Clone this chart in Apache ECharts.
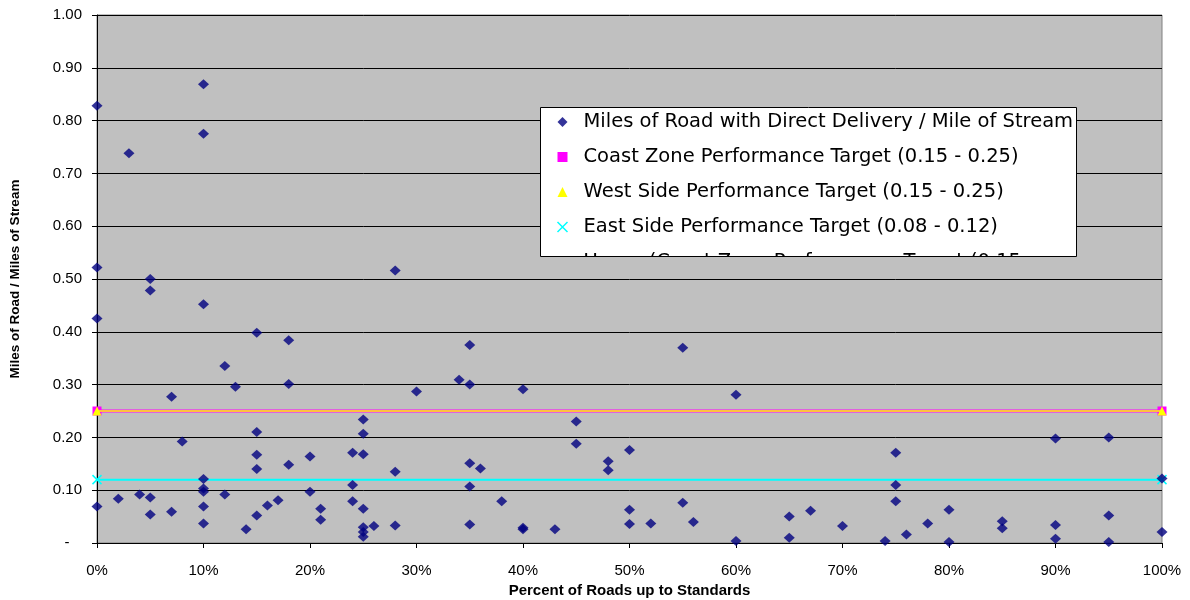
<!DOCTYPE html>
<html>
<head>
<meta charset="utf-8">
<script src="https://cdn.jsdelivr.net/npm/echarts@6/dist/echarts.min.js"></script>
<style>
html,body{margin:0;padding:0;background:#fff;}
#chart{width:1190px;height:600px;}
</style>
</head>
<body>
<div id="chart"></div>
<script>
// percent of roads up to standards
var pctRoads = [
	0,0,0,0, 2, 3, 4, 5,5,5,5, 7,7, 8,
	10,10,10,10,10,10,10,10, 12,12, 13, 14,
	15,15,15,15,15, 16, 17, 18,18,18, 20,20, 21,21,
	24,24,24, 25,25,25,25,25,25,25, 26, 28,28,28,
	30, 34, 35,35,35,35,35, 36, 38, 40,40,40, 43,
	45,45, 48,48, 50,50,50, 52, 55,55, 56, 60,60,
	65,65, 67, 70, 74, 75,75,75, 76, 78, 80,80,
	85,85, 90,90,90, 95,95,95, 100,100
];
// miles of road / miles of stream
var milesRatio = [
	0.828,0.522,0.425,0.069, 0.084, 0.738, 0.092, 0.500,0.478,0.086,0.054, 0.277,0.059, 0.192,
	0.869,0.775,0.452,0.121,0.103,0.097,0.069,0.037, 0.335,0.092, 0.296, 0.026,
	0.398,0.210,0.167,0.140,0.052, 0.071, 0.081, 0.384,0.301,0.148, 0.164,0.097, 0.065,0.044,
	0.171,0.110,0.079, 0.234,0.207,0.168,0.065,0.030,0.021,0.012, 0.032, 0.516,0.135,0.033,
	0.287, 0.309, 0.375,0.300,0.151,0.107,0.035, 0.141, 0.079, 0.291,0.029,0.026, 0.026,
	0.230,0.188, 0.155,0.138, 0.176,0.063,0.036, 0.037, 0.370,0.076, 0.040, 0.281,0.004,
	0.050,0.010, 0.061, 0.032, 0.004, 0.171,0.110,0.079, 0.016, 0.037, 0.063,0.002,
	0.041,0.028, 0.198,0.034,0.008, 0.200,0.052,0.002, 0.122,0.021
];
// performance targets (upper bounds)
var targetX = [0, 100];
var coastTarget = [0.25, 0.25];
var westTarget = [0.25, 0.25];
var eastTarget = [0.12, 0.12];

var seriesNames = [
	'Miles of Road with Direct Delivery / Mile of Stream',
	'Coast Zone Performance Target (0.15 - 0.25)',
	'West Side Performance Target (0.15 - 0.25)',
	'East Side Performance Target (0.08 - 0.12)',
	'Upper (Coast Zone Performance Target (0.15 - 0.25))'
];

var crossIcon = 'path://M0,0L10,10M10,0L0,10';

function pairs(xs, ys){
	var out = [];
	for (var i = 0; i < xs.length; i++) out.push([xs[i], ys[i]]);
	return out;
}

var myChart = echarts.init(document.getElementById('chart'));
var option = {
	animation: false,
	grid: {
		left: 97, right: 28, top: 15, bottom: 57,
		outerBoundsMode: 'none',
		containLabel: false,
		show: true,
		backgroundColor: '#C0C0C0',
		borderColor: '#808080',
		borderWidth: 1
	},
	xAxis: {
		type: 'value', min: 0, max: 100, interval: 10,
		name: 'Percent of Roads up to Standards',
		nameLocation: 'middle', nameGap: 40,
		nameTextStyle: {fontFamily: 'Liberation Sans', fontWeight: 'bold', fontSize: 15, color: '#000'},
		axisLine: {lineStyle: {color: '#000', width: 1}},
		axisTick: {show: true, length: 5, lineStyle: {color: '#000'}},
		axisLabel: {formatter: '{value}%', margin: 20, fontFamily: 'Liberation Sans', fontSize: 15, color: '#000'},
		splitLine: {show: false}
	},
	yAxis: {
		type: 'value', min: 0, max: 1, interval: 0.1,
		name: 'Miles of Road / Miles of Stream',
		nameLocation: 'middle', nameGap: 75,
		nameTextStyle: {fontFamily: 'Liberation Sans', fontWeight: 'bold', fontSize: 13.5, color: '#000'},
		axisLine: {show: true, lineStyle: {color: '#000', width: 1}},
		axisTick: {show: true, length: 5, lineStyle: {color: '#000'}},
		axisLabel: {
			margin: 15, fontFamily: 'Liberation Sans', fontSize: 15, color: '#000',
			formatter: function(v){ return v === 0 ? '-   ' : v.toFixed(2); }
		},
		splitLine: {show: true, lineStyle: {color: '#000', width: 1}}
	},
	legend: {
		orient: 'vertical',
		left: 555, top: 112,
		padding: 0,
		itemGap: 15,
		itemWidth: 10, itemHeight: 10,
		textStyle: {
			fontFamily: 'DejaVu Sans', fontSize: 19.5, color: '#000', lineHeight: 20,
			padding: [0, 0, 0, 11]
		},
		z: 5,
		data: [
			{name: seriesNames[0], icon: 'diamond', itemStyle: {color: '#000080'}},
			{name: seriesNames[1], icon: 'rect'},
			{name: seriesNames[2], icon: 'triangle'},
			{name: seriesNames[3], icon: crossIcon, itemStyle: {color: 'none', borderColor: '#00FFFF', borderWidth: 1.5}},
			{
				name: seriesNames[4], icon: 'rect', itemStyle: {color: '#000'},
				textStyle: {width: 450, overflow: 'truncate', ellipsis: ''}
			}
		]
	},
	graphic: [
		{type: 'rect', z: 3, shape: {x: 540.5, y: 107.5, width: 536, height: 149}, style: {fill: '#fff', stroke: '#000', lineWidth: 1}},
		{type: 'rect', z: 10, shape: {x: 539, y: 257, width: 539, height: 20}, style: {fill: '#C0C0C0'}}
	],
	series: [
		{
			name: seriesNames[0], type: 'scatter',
			symbol: 'diamond', symbolSize: [11, 10],
			itemStyle: {color: '#000080'},
			data: pairs(pctRoads, milesRatio), z: 4
		},
		{
			name: seriesNames[1], type: 'line',
			symbol: 'rect', symbolSize: 9, showSymbol: true,
			lineStyle: {color: '#FF00FF', width: 3},
			itemStyle: {color: '#FF00FF'},
			data: pairs(targetX, coastTarget), z: 2
		},
		{
			name: seriesNames[2], type: 'line',
			symbol: 'triangle', symbolSize: 9, showSymbol: true,
			lineStyle: {color: '#FFFF00', width: 1.5},
			itemStyle: {color: '#FFFF00'},
			data: pairs(targetX, westTarget), z: 3
		},
		{
			name: seriesNames[3], type: 'line',
			symbol: crossIcon, symbolSize: 9, showSymbol: true,
			lineStyle: {color: '#00FFFF', width: 2},
			itemStyle: {color: 'none', borderColor: '#00FFFF', borderWidth: 1.5},
			data: pairs(targetX, eastTarget), z: 3
		},
		{
			name: seriesNames[4], type: 'line',
			lineStyle: {color: '#000'},
			data: []
		}
	]
};
myChart.setOption(option);
</script>
</body>
</html>
